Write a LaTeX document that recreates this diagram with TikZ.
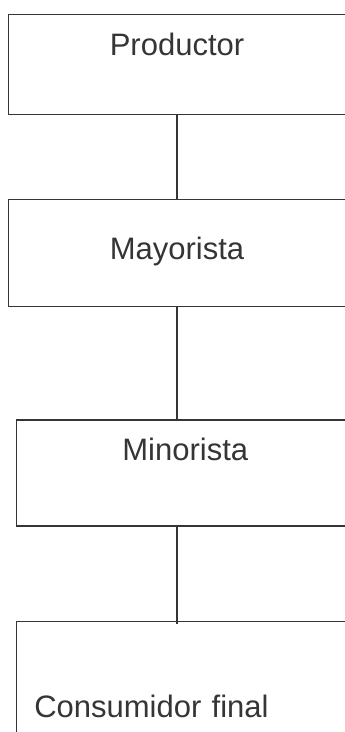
\documentclass[tikz,border=0pt]{standalone}
\usepackage{fontspec}
\setmainfont{Liberation Sans}
\usepackage{xcolor}
\usetikzlibrary{positioning}

\definecolor{inkgray}{HTML}{353535}

\begin{document}
\begin{tikzpicture}[
        x=1pt, y=1pt,
        box/.style={draw=inkgray, line width=1.2pt, rectangle, inner sep=0pt,
                    minimum width=337pt, text=inkgray, anchor=north,
                    font=\fontsize{31}{36}\selectfont},
        link/.style={draw=inkgray, line width=1.2pt}
    ]
        \useasboundingbox (0,0) rectangle (345,-732);
        \clip (0,0) rectangle (345,-732);

        \node[box, text height=41pt, text depth=59pt] at (177,-14) (prod) {Productor};
        \node[box, text height=60pt, text depth=47pt, below=84pt of prod] (may) {Mayorista};
        \node[box, text height=40pt, text depth=66pt, below=112pt of may, xshift=8.3pt] (mino) {Minorista};
        \node[box, text height=96pt, text depth=54pt, text width=302pt, align=left,
              inner xsep=17.3pt, below=94pt of mino] (cons) {Consumidor final};

        \draw[link]
            (prod) -- (may)
            (may.south) -- (may.south |- mino.north)
            (may.south |- mino.south) -- ([yshift=-3pt]may.south |- cons.north)
            ;
\end{tikzpicture}
\end{document}
